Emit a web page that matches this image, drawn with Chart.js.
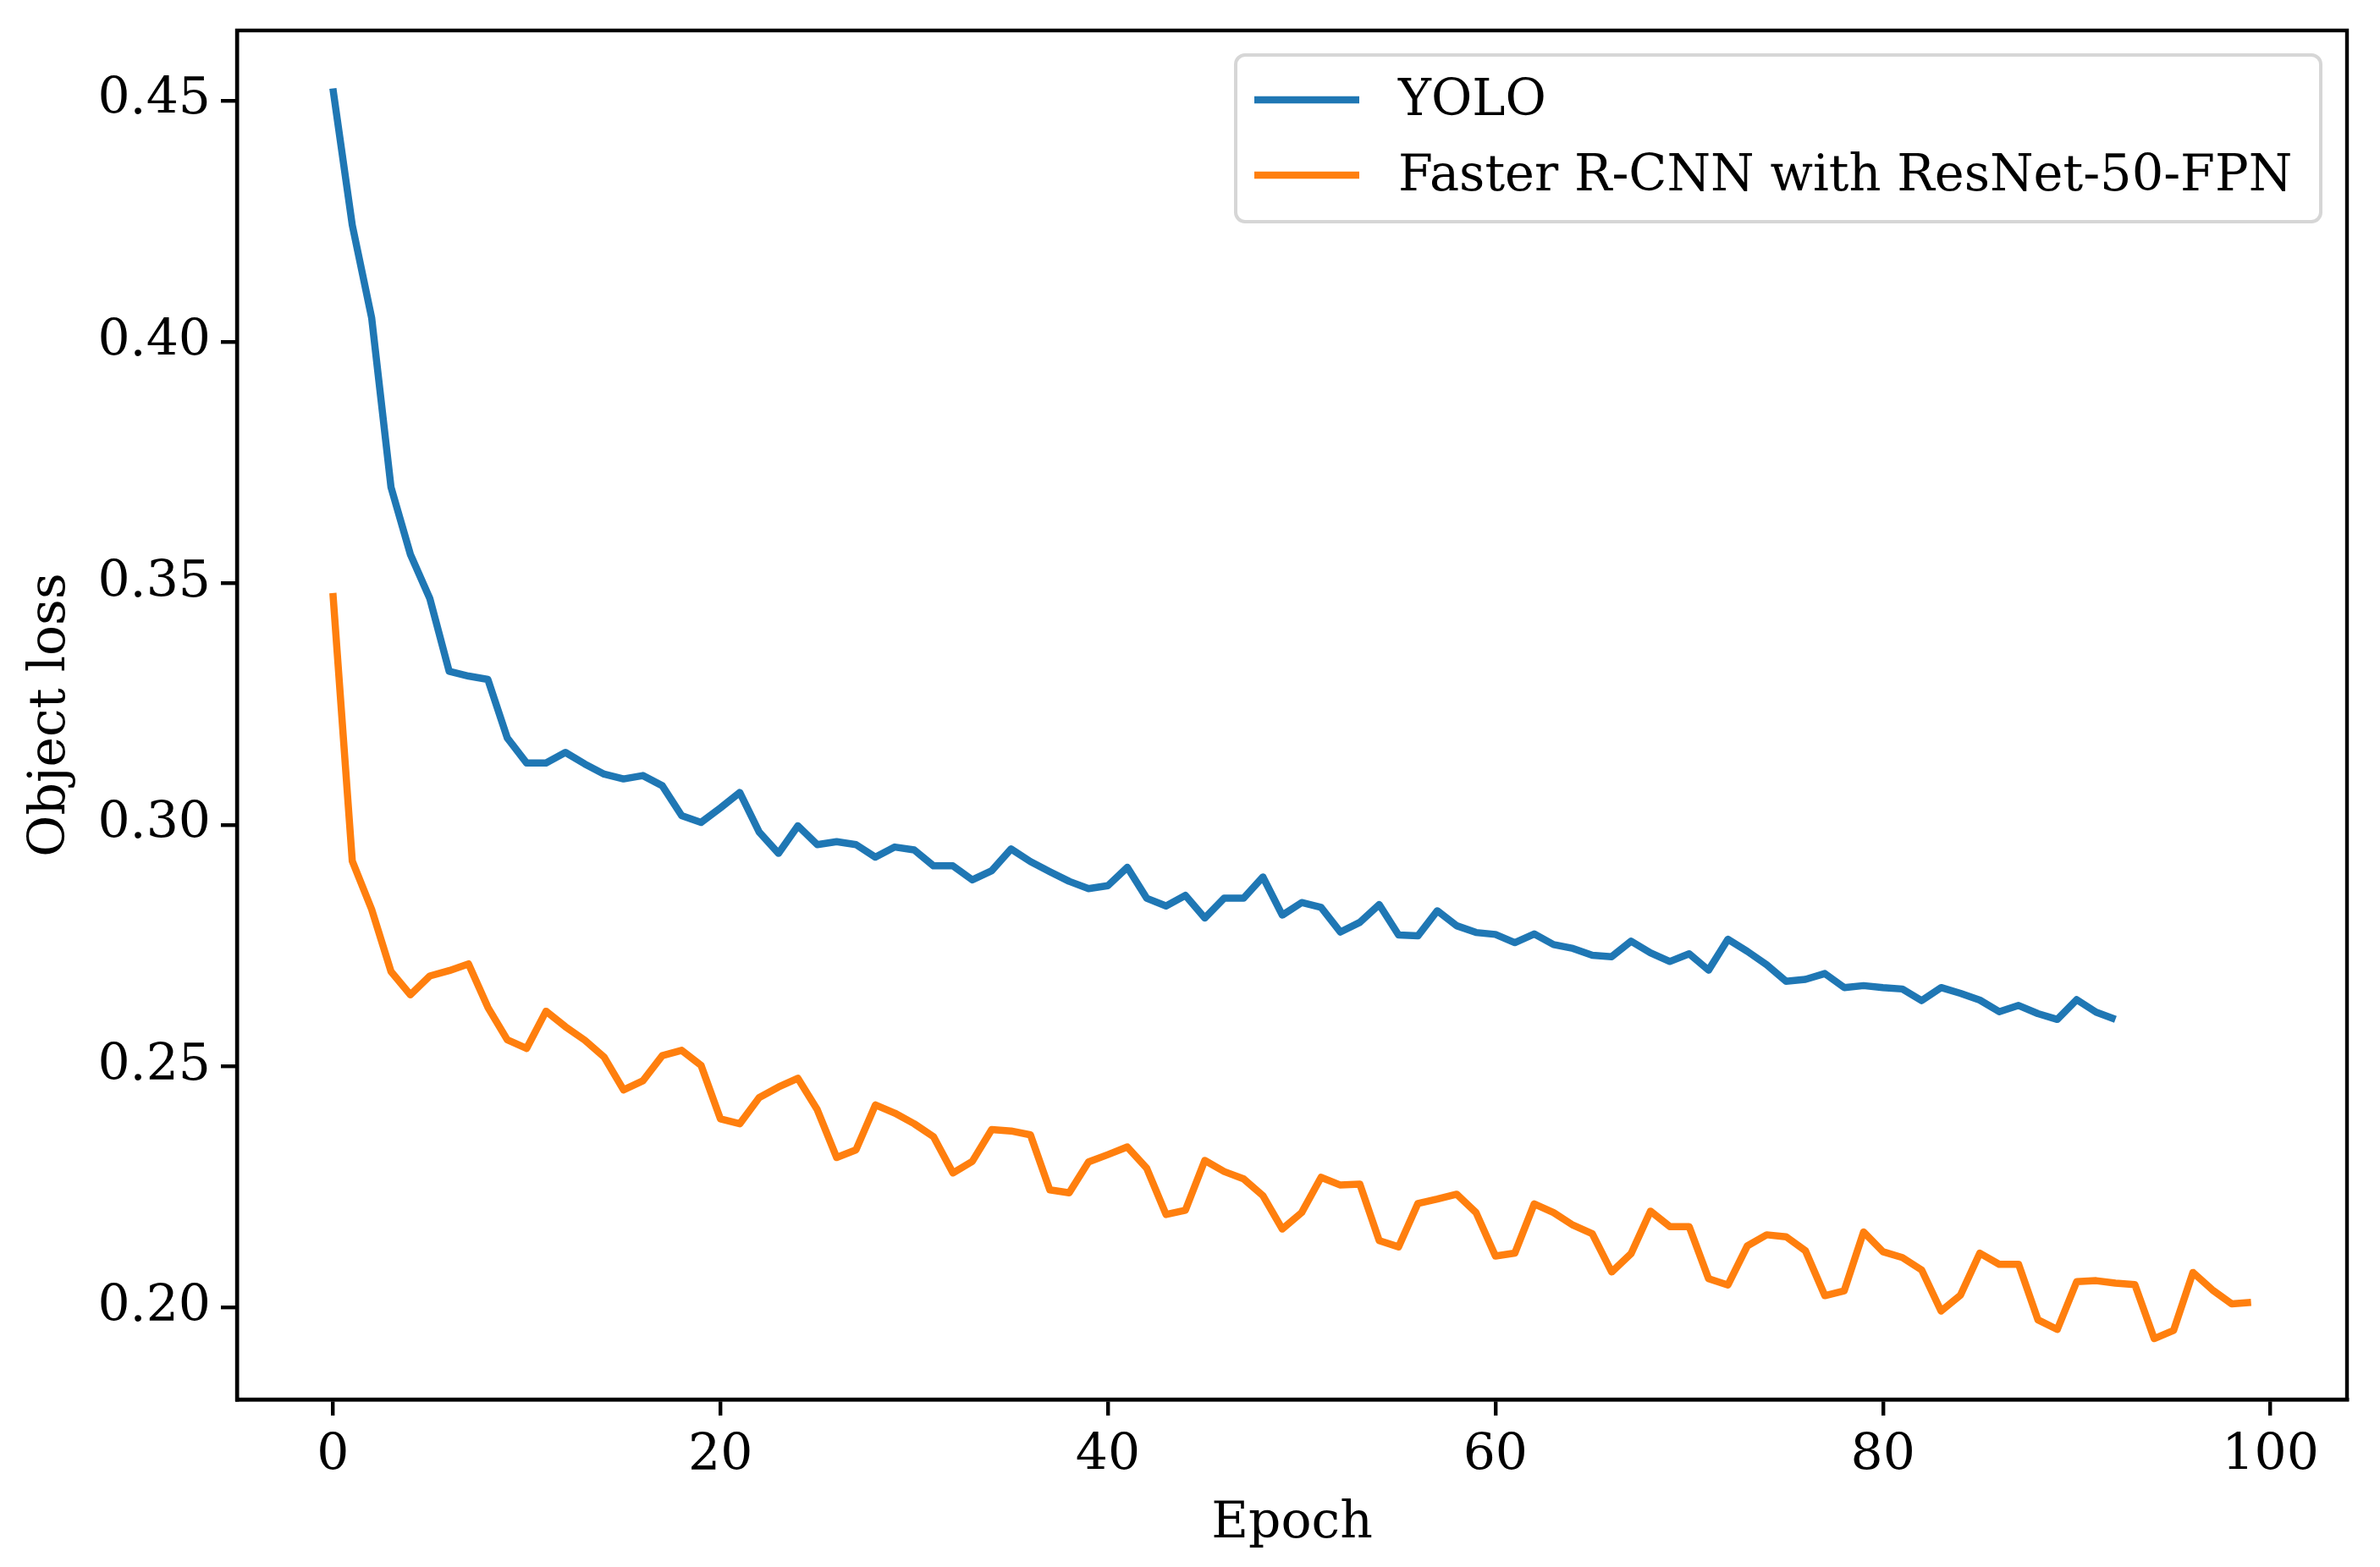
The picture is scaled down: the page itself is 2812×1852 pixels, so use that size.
<!DOCTYPE html>
<html>
<head>
<meta charset="utf-8">
<script src="https://cdn.jsdelivr.net/npm/chart.js@4/dist/chart.umd.min.js"></script>
<style>
  html, body { margin: 0; padding: 0; background: #fff; }
  #line { display: block; }
</style>
</head>
<body>
<canvas id="line"></canvas>
<script>
const seriesNames = ['YOLO', 'Faster R-CNN with ResNet-50-FPN'];
const seriesColors = ['#1f77b4', '#ff7f0e'];

const yoloLoss = [
  0.4525, 0.4242, 0.4050, 0.3699, 0.3560, 0.3469, 0.3318, 0.3308, 0.3301, 0.3180,
  0.3128, 0.3128, 0.3150, 0.3126, 0.3105, 0.3095, 0.3102, 0.3081, 0.3019, 0.3005,
  0.3035, 0.3067, 0.2985, 0.2941, 0.2998, 0.2959, 0.2965, 0.2959, 0.2933, 0.2954,
  0.2948, 0.2915, 0.2915, 0.2886, 0.2905, 0.2950, 0.2924, 0.2903, 0.2883, 0.2868,
  0.2874, 0.2912, 0.2848, 0.2832, 0.2854, 0.2807, 0.2848, 0.2848, 0.2892, 0.2813,
  0.2839, 0.2829, 0.2778, 0.2798, 0.2835, 0.2772, 0.2770, 0.2822, 0.2791, 0.2777,
  0.2773, 0.2756, 0.2774, 0.2752, 0.2744, 0.2730, 0.2727, 0.2759, 0.2735, 0.2717,
  0.2733, 0.2699, 0.2763, 0.2738, 0.2710, 0.2676, 0.2680, 0.2692, 0.2663, 0.2667,
  0.2663, 0.2660, 0.2636, 0.2663, 0.2651, 0.2637, 0.2613, 0.2626, 0.2609, 0.2597,
  0.2638, 0.2612, 0.2597
];

const fasterLoss = [
  0.3480, 0.2925, 0.2825, 0.2696, 0.2648, 0.2687, 0.2698, 0.2712, 0.2622, 0.2555,
  0.2537, 0.2614, 0.2582, 0.2554, 0.2519, 0.2451, 0.2470, 0.2522, 0.2533, 0.2502,
  0.2391, 0.2381, 0.2435, 0.2457, 0.2475, 0.2410, 0.2311, 0.2327, 0.2420, 0.2403,
  0.2381, 0.2354, 0.2279, 0.2303, 0.2369, 0.2366, 0.2358, 0.2244, 0.2238, 0.2302,
  0.2317, 0.2333, 0.2289, 0.2193, 0.2202, 0.2305, 0.2282, 0.2267, 0.2232, 0.2163,
  0.2197, 0.2270, 0.2254, 0.2256, 0.2139, 0.2126, 0.2216, 0.2225, 0.2235, 0.2197,
  0.2107, 0.2113, 0.2215, 0.2197, 0.2171, 0.2153, 0.2074, 0.2112, 0.2200, 0.2168,
  0.2168, 0.2060, 0.2047, 0.2128, 0.2151, 0.2147, 0.2118, 0.2025, 0.2035, 0.2157,
  0.2116, 0.2104, 0.2078, 0.1993, 0.2026, 0.2113, 0.2090, 0.2090, 0.1975, 0.1955,
  0.2054, 0.2056, 0.2051, 0.2048, 0.1936, 0.1953, 0.2073, 0.2037, 0.2008, 0.2011
];

const xTicks = [0, 20, 40, 60, 80, 100];
const yTicks = [0.20, 0.25, 0.30, 0.35, 0.40, 0.45];

const W = 2812, H = 1852;
const FONT = '"DejaVu Serif", serif';
const FS = 60;
const LW = 4.4; // spine / tick width

// box around the plot area (matplotlib draws all four spines)
const framePlugin = {
  id: 'frame',
  afterDatasetsDraw(chart) {
    const a = chart.chartArea, ctx = chart.ctx;
    ctx.save();
    ctx.strokeStyle = '#000';
    ctx.lineWidth = LW;
    ctx.strokeRect(a.left, a.top, a.right - a.left, a.bottom - a.top);
    ctx.restore();
  }
};

// matplotlib style legend, upper right inside the axes
const legendPlugin = {
  id: 'mplLegend',
  afterDraw(chart) {
    const ctx = chart.ctx;
    const sets = chart.data.datasets;
    const x0 = 1460, y0 = 65, x1 = 2742, y1 = 262;
    ctx.save();
    ctx.beginPath();
    ctx.roundRect(x0, y0, x1 - x0, y1 - y0, 11);
    ctx.fillStyle = 'rgba(255,255,255,0.8)';
    ctx.fill();
    ctx.strokeStyle = '#d6d6d6';
    ctx.lineWidth = 4;
    ctx.stroke();
    ctx.font = '59px ' + FONT;
    ctx.textBaseline = 'middle';
    ctx.textAlign = 'left';
    sets.forEach((ds, i) => {
      const y = 118 + i * 89;
      ctx.beginPath();
      ctx.moveTo(1482, y);
      ctx.lineTo(1606, y);
      ctx.strokeStyle = ds.borderColor;
      ctx.lineWidth = ds.borderWidth;
      ctx.stroke();
      ctx.fillStyle = '#000';
      ctx.fillText(ds.label, 1652, y + 3);
    });
    ctx.restore();
  }
};

function makeChart() {
  let eLine = document.querySelector('#line');
  eLine.width = W;
  eLine.height = H;
  eLine.style.width = W + 'px';
  eLine.style.height = H + 'px';

  let chartLine = new Chart(eLine, {
    type: 'line',
    data: {
      datasets: [
        {
          label: seriesNames[0],
          data: yoloLoss.map((v, i) => ({ x: i, y: v })),
          borderColor: seriesColors[0],
          backgroundColor: seriesColors[0],
          borderWidth: 8.5,
          pointRadius: 0,
          tension: 0,
          borderJoinStyle: 'round'
        },
        {
          label: seriesNames[1],
          data: fasterLoss.map((v, i) => ({ x: i, y: v })),
          borderColor: seriesColors[1],
          backgroundColor: seriesColors[1],
          borderWidth: 8.5,
          pointRadius: 0,
          tension: 0,
          borderJoinStyle: 'round'
        }
      ]
    },
    options: {
      responsive: false,
      animation: false,
      devicePixelRatio: 1,
      layout: { padding: { left: 0, top: 36, right: 39, bottom: 0 } },
      plugins: {
        legend: { display: false },
        tooltip: { enabled: false }
      },
      scales: {
        x: {
          type: 'linear',
          min: -4.95,
          max: 103.95,
          afterBuildTicks: (s) => { s.ticks = xTicks.map(v => ({ value: v })); },
          afterFit: (s) => { s.height = 198; s.paddingLeft = 0; s.paddingRight = 0; },
          grid: { drawOnChartArea: false, drawTicks: true, tickLength: 19, tickWidth: LW, tickColor: '#000', lineWidth: LW },
          border: { display: true, color: '#000', width: LW },
          ticks: { color: '#000', padding: 12, maxRotation: 0, font: { family: FONT, size: FS } },
          title: { display: true, text: 'Epoch', color: '#000', padding: { top: 0, bottom: 15 }, font: { family: FONT, size: FS } }
        },
        y: {
          type: 'linear',
          min: 0.181,
          max: 0.4645,
          afterBuildTicks: (s) => { s.ticks = yTicks.map(v => ({ value: v })); },
          afterFit: (s) => { s.width = 280; s.paddingTop = 0; s.paddingBottom = 0; },
          grid: { drawOnChartArea: false, drawTicks: true, tickLength: 19, tickWidth: LW, tickColor: '#000', lineWidth: LW },
          border: { display: true, color: '#000', width: LW },
          ticks: { color: '#000', padding: 12, callback: (v) => v.toFixed(2), font: { family: FONT, size: FS } },
          title: { display: true, text: 'Object loss', color: '#000', padding: { top: 24, bottom: 0 }, font: { family: FONT, size: FS } }
        }
      }
    },
    plugins: [framePlugin, legendPlugin]
  });
}

makeChart();
</script>
</body>
</html>
